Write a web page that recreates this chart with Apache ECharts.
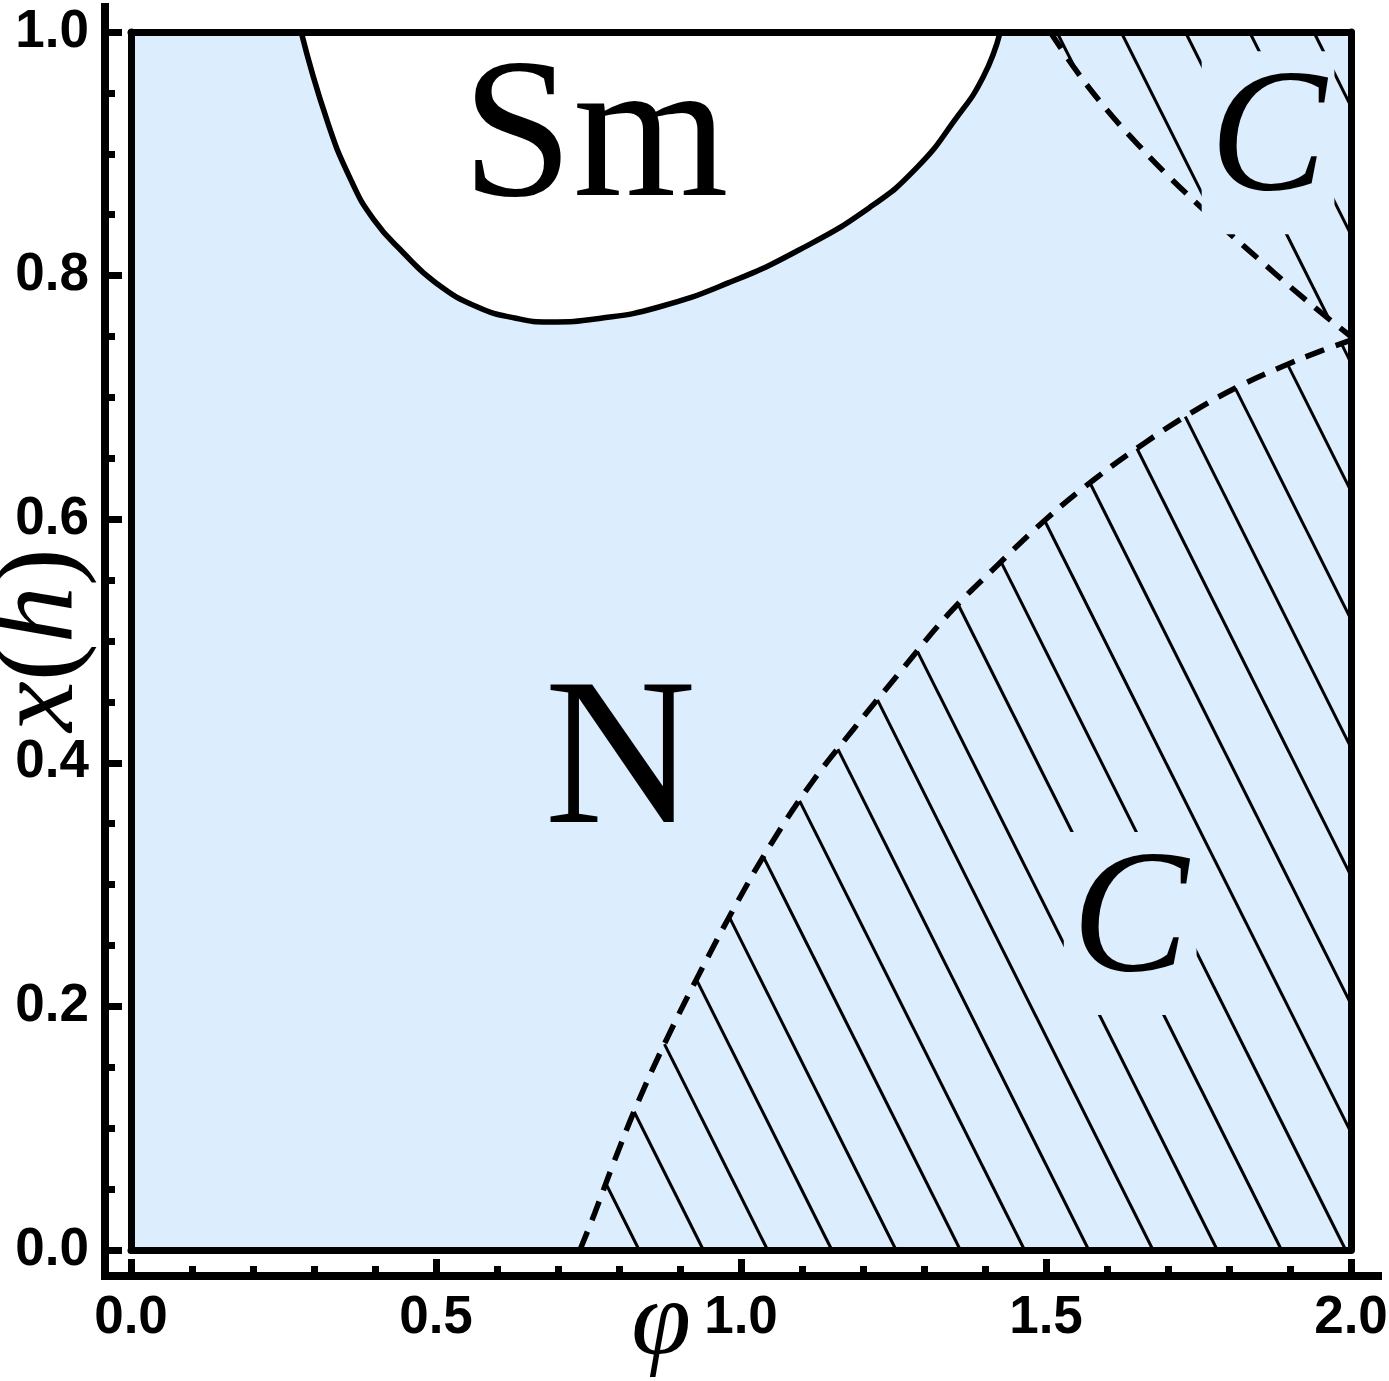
<!DOCTYPE html>
<html lang="en">
<head>
<meta charset="UTF-8">
<title>Phase diagram</title>
<script src="https://cdn.jsdelivr.net/npm/echarts@6/dist/echarts.min.js"></script>
<style>
    html, body { margin: 0; padding: 0; background: #fff; }
    #main { width: 1389px; height: 1381px; }
</style>
</head>
<body>
<div id="main"></div>
<script>
// boundary of the Sm region (solid curve)
var smX = [0.279, 0.321, 0.361, 0.398, 0.446, 0.500, 0.569, 0.631, 0.685, 0.770, 0.864, 0.979, 1.095, 1.211, 1.289, 1.351, 1.397, 1.425];
var smY = [1.000, 0.928, 0.878, 0.846, 0.819, 0.794, 0.774, 0.765, 0.762, 0.765, 0.774, 0.794, 0.821, 0.856, 0.889, 0.928, 0.963, 1.000];

// lower dashed boundary of the C region
var lowX = [0.736, 0.760, 0.790, 0.830, 0.880, 0.935, 0.990, 1.050, 1.115, 1.185, 1.260, 1.340, 1.420, 1.500, 1.580, 1.660, 1.740, 1.820, 1.900, 1.950, 2.000];
var lowY = [0.000, 0.030, 0.070, 0.120, 0.175, 0.230, 0.282, 0.334, 0.383, 0.428, 0.474, 0.522, 0.562, 0.600, 0.633, 0.662, 0.688, 0.710, 0.728, 0.738, 0.747];

// upper dashed boundary of the C region
var upX = [1.507, 1.550, 1.600, 1.650, 1.700, 1.750, 1.800, 1.850, 1.900, 1.950, 2.000];
var upY = [1.000, 0.968, 0.936, 0.908, 0.882, 0.858, 0.835, 0.813, 0.791, 0.770, 0.750];

// hatch lines x + y = c
var hatchC0 = 0.833;
var hatchStep = 0.1053;

// region labels
var regionNames = ['Sm', 'N', 'C', 'C'];
var regionAt = [[0.761, 0.909], [0.802, 0.397], [1.638, 0.268], [1.864, 0.909]];

var xTickLabels = ['0.0', '0.5', '1.0', '1.5', '2.0'];
var yTickLabels = ['0.0', '0.2', '0.4', '0.6', '0.8', '1.0'];

var X_MAX = 2, Y_MAX = 1;

function pairs(xs, ys) {
    var out = [];
    for (var i = 0; i < xs.length; i++) out.push([xs[i], ys[i]]);
    return out;
}

function lerp(xs, ys, x) {
    for (var i = 0; i < xs.length - 1; i++) {
        if (x <= xs[i + 1]) {
            var t = (x - xs[i]) / (xs[i + 1] - xs[i]);
            return ys[i] + t * (ys[i + 1] - ys[i]);
        }
    }
    return ys[ys.length - 1];
}

// x where x + f(x) = c  (x + f(x) grows with x on both curves)
function crossing(xs, ys, c) {
    var lo = xs[0], hi = xs[xs.length - 1];
    for (var it = 0; it < 50; it++) {
        var mid = (lo + hi) / 2;
        if (mid + lerp(xs, ys, mid) < c) lo = mid; else hi = mid;
    }
    return lo;
}

var hatch = [];
var lowEnd = lowX[lowX.length - 1] + lowY[lowY.length - 1];
var upEnd = upX[upX.length - 1] + upY[upY.length - 1];
for (var k = -5; k < 40; k++) {
    var c = hatchC0 + k * hatchStep;
    // under the lower dashed curve
    if (c > lowX[0] && c < lowEnd) {
        var xa = crossing(lowX, lowY, c);
        var pb = c <= X_MAX ? [c, 0] : [X_MAX, c - X_MAX];
        hatch.push({coords: [[xa, c - xa], pb]});
    }
    // above the upper dashed curve
    if (c > upX[0] + Y_MAX && c < X_MAX + Y_MAX) {
        var pe;
        if (c < upEnd) {
            var xb = crossing(upX, upY, c);
            pe = [xb, c - xb];
        } else {
            pe = [X_MAX, c - X_MAX];
        }
        hatch.push({coords: [[c - Y_MAX, Y_MAX], pe]});
    }
}

var BLUE = '#dcedfd';
var G = {l: 131, t: 32, r: 1351, b: 1250};
var AX_OFF = 26;
var AX_EXT = 30;

var labelStyles = [
    {fontSize: 200, fontFamily: 'Liberation Serif', fontStyle: 'normal'},
    {fontSize: 210, fontFamily: 'Liberation Serif', fontStyle: 'normal'},
    {fontSize: 175, fontFamily: 'Liberation Serif', fontStyle: 'italic', backgroundColor: BLUE, padding: [4, 8]},
    {fontSize: 175, fontFamily: 'Liberation Serif', fontStyle: 'italic', backgroundColor: BLUE, padding: [4, 8]}
];
var labelData = regionNames.map(function (n, i) {
    var st = labelStyles[i];
    return {
        name: n,
        value: regionAt[i],
        label: Object.assign({show: true, position: 'inside', formatter: '{b}', color: '#000', opacity: 1}, st)
    };
});

var tickAxisX = {
    type: 'value', min: 0, max: X_MAX, interval: 0.5, position: 'bottom', offset: AX_OFF, z: 10,
    axisLine: {show: true, onZero: false, lineStyle: {color: '#000', width: 8}},
    axisTick: {show: true, inside: true, length: 17, lineStyle: {color: '#000', width: 7}},
    minorTick: {show: true, splitNumber: 5, length: 10, lineStyle: {color: '#000', width: 7}},
    axisLabel: {
        show: true, margin: 16, color: '#000', fontSize: 53, fontWeight: 'bold', fontFamily: 'Liberation Sans',
        formatter: function (v, i) { return xTickLabels[i]; }
    },
    splitLine: {show: false}, minorSplitLine: {show: false}
};
var tickAxisY = {
    type: 'value', min: 0, max: Y_MAX, interval: 0.2, position: 'left', offset: AX_OFF, z: 10,
    axisLine: {show: true, onZero: false, lineStyle: {color: '#000', width: 8}},
    axisTick: {show: true, inside: true, length: 17, lineStyle: {color: '#000', width: 7}},
    minorTick: {show: true, splitNumber: 4, length: 10, lineStyle: {color: '#000', width: 7}},
    axisLabel: {
        show: true, margin: 16, color: '#000', fontSize: 53, fontWeight: 'bold', fontFamily: 'Liberation Sans',
        formatter: function (v, i) { return yTickLabels[i]; }
    },
    splitLine: {show: false}, minorSplitLine: {show: false}
};
function frameAxis(pos, max) {
    return {
        type: 'value', min: 0, max: max, position: pos, offset: 0, z: 10,
        axisLine: {show: true, onZero: false, lineStyle: {color: '#000', width: 7}},
        axisTick: {show: false}, axisLabel: {show: false},
        splitLine: {show: false}, minorTick: {show: false}
    };
}

var myChart = echarts.init(document.getElementById('main'), null, {renderer: 'canvas'});
myChart.setOption({
    animation: false,
    backgroundColor: '#fff',
    grid: {
        left: G.l, top: G.t, right: 1389 - G.r, bottom: 1381 - G.b,
        show: true, backgroundColor: BLUE, borderWidth: 0,
        containLabel: false, outerBoundsMode: 'none'
    },
    xAxis: [tickAxisX, frameAxis('top', X_MAX), frameAxis('bottom', X_MAX)],
    yAxis: [tickAxisY, frameAxis('right', Y_MAX), frameAxis('left', Y_MAX)],
    graphic: [
        // axis lines run a little past the frame
        {type: 'line', z: 100, shape: {x1: G.l - AX_OFF, y1: G.t - AX_EXT + 1, x2: G.l - AX_OFF, y2: G.b + AX_OFF + 4},
            style: {stroke: '#000', lineWidth: 8}},
        {type: 'line', z: 100, shape: {x1: G.l - AX_OFF - 4, y1: G.b + AX_OFF, x2: G.r + AX_EXT + 1, y2: G.b + AX_OFF},
            style: {stroke: '#000', lineWidth: 8}},
        {type: 'text', z: 100, x: 661, y: 1326,
            style: {text: 'φ', font: 'italic 108px "Liberation Serif"', fill: '#000',
                align: 'center', verticalAlign: 'middle', textAlign: 'center', textVerticalAlign: 'middle'}},
        {type: 'text', z: 100, x: 42, y: 640, rotation: Math.PI / 2,
            style: {
                text: '{i|x}{p|(}{i|h}{p|)}', fill: '#000',
                align: 'center', verticalAlign: 'middle', textAlign: 'center', textVerticalAlign: 'middle',
                rich: {
                    i: {fontFamily: 'Liberation Serif', fontStyle: 'italic', fontSize: 114, fill: '#000'},
                    p: {fontFamily: 'Liberation Serif', fontSize: 114, fill: '#000'}
                }
            }}
    ],
    series: [
        {
            name: 'Sm', type: 'line', data: pairs(smX, smY), smooth: 0.5,
            showSymbol: false, symbol: 'none', z: 2,
            lineStyle: {color: '#000', width: 5.5},
            areaStyle: {color: '#fff', opacity: 1, origin: 'end'}
        },
        {
            name: 'hatch', type: 'lines', coordinateSystem: 'cartesian2d', polyline: false,
            data: hatch, silent: true, z: 3,
            lineStyle: {color: '#000', width: 3, opacity: 1, curveness: 0}
        },
        {
            name: 'C lower', type: 'line', data: pairs(lowX, lowY), smooth: 0.4,
            showSymbol: false, symbol: 'none', z: 4,
            lineStyle: {color: '#000', width: 5.5, type: [20, 12]}
        },
        {
            name: 'C upper', type: 'line', data: pairs(upX, upY), smooth: 0.4,
            showSymbol: false, symbol: 'none', z: 4,
            lineStyle: {color: '#000', width: 5.5, type: [20, 12]}
        },
        {
            name: 'labels', type: 'scatter', data: labelData, symbolSize: 0, z: 6, silent: true,
            itemStyle: {opacity: 1}
        }
    ]
});
</script>
</body>
</html>
